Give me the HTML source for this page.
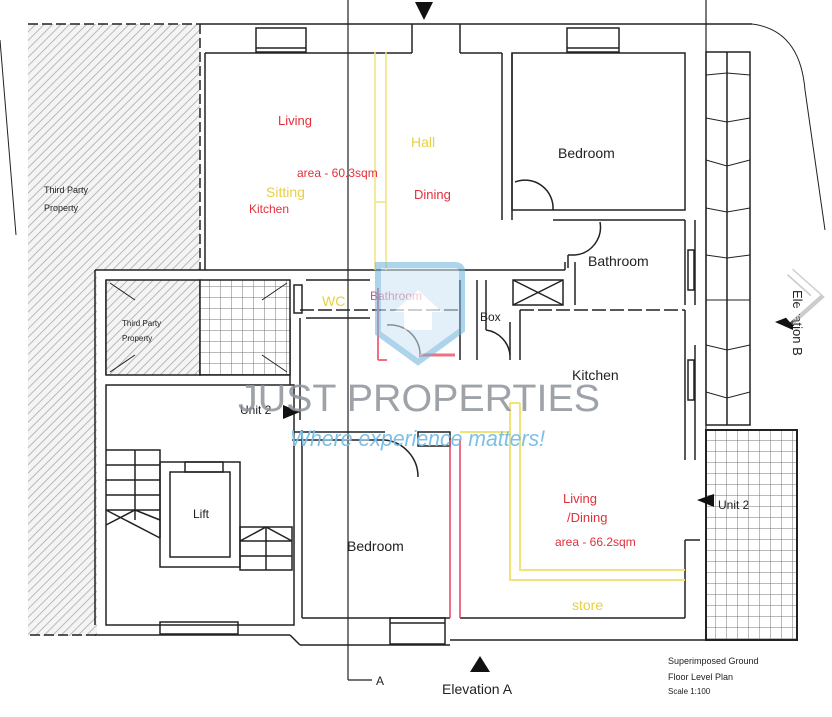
<!DOCTYPE html>
<html><head><meta charset="utf-8"><style>
html,body{margin:0;padding:0;background:#fff;}
svg{display:block;}
text{font-family:"Liberation Sans",sans-serif;}
</style></head><body>
<svg width="832" height="717" viewBox="0 0 832 717" xmlns="http://www.w3.org/2000/svg">
<defs>
<pattern id="hatch" width="6" height="6" patternUnits="userSpaceOnUse" patternTransform="rotate(45)">
<rect width="6" height="6" fill="#f4f4f4"/><line x1="0" y1="0" x2="0" y2="6" stroke="#aaa" stroke-width="1.6"/></pattern>
<pattern id="grid" width="11" height="11" patternUnits="userSpaceOnUse">
<rect width="11" height="11" fill="#fff"/><path d="M0 0H11M0 0V11" stroke="#777" stroke-width="1"/></pattern>
</defs>
<g fill="none" stroke="#222" stroke-width="1.5">
<!-- third party hatched -->
<path d="M28 24H200V270H97V636H28Z" fill="url(#hatch)" stroke="none"/>
<line x1="28" y1="24" x2="200" y2="24" stroke-dasharray="10 4"/>
<line x1="200" y1="24" x2="200" y2="270" stroke-dasharray="10 4"/>
<line x1="30" y1="635" x2="100" y2="635" stroke-dasharray="10 4"/>
<line x1="0" y1="40" x2="16" y2="235" stroke-width="1"/>
<!-- top walls -->
<line x1="200" y1="24" x2="752" y2="24"/>
<path d="M752 24 Q800 30 805 90 L825 230" stroke-width="1"/>
<line x1="205" y1="53" x2="412" y2="53"/>
<line x1="205" y1="53" x2="205" y2="270"/>
<line x1="460" y1="53" x2="502" y2="53"/><line x1="460" y1="24" x2="460" y2="53"/><line x1="412" y1="24" x2="412" y2="53"/>
<rect x="256" y="28" width="50" height="24"/><line x1="256" y1="48" x2="306" y2="48"/>
<rect x="567" y="28" width="52" height="24"/><line x1="567" y1="48" x2="619" y2="48"/>
<!-- section lines -->
<line x1="348" y1="0" x2="348" y2="680" stroke-width="1.2"/><line x1="348" y1="680" x2="372" y2="680" stroke-width="1.2"/>
<line x1="706" y1="0" x2="706" y2="430" stroke-width="1.2"/>
<!-- living right wall / bedroom -->
<line x1="502" y1="53" x2="502" y2="220"/><line x1="512" y1="53" x2="512" y2="220"/>
<rect x="512" y="53" width="173" height="157"/>
<path d="M515 182 A28 28 0 0 1 553 210"/>
<line x1="553" y1="220" x2="685" y2="220"/><line x1="685" y1="220" x2="685" y2="305"/><line x1="695" y1="220" x2="695" y2="305"/>
<path d="M600 222 A28 28 0 0 1 575 255"/>
<line x1="568" y1="255" x2="575" y2="255"/><line x1="568" y1="255" x2="568" y2="268"/>
<rect x="688" y="250" width="6" height="40"/>
<!-- right bricks column -->
<rect x="706" y="52" width="44" height="373"/><line x1="727" y1="52" x2="727" y2="425"/>
<path d="M706 75 L727 73 L750 75 M706 118 L727 122 L750 118 M706 160 L727 166 L750 160 M706 208 L727 212 L750 208 M706 255 L727 258 L750 255 M706 300 L727 300 L750 300 M706 345 L727 350 L750 345 M706 392 L727 398 L750 392" stroke-width="1"/>
<!-- middle band -->
<line x1="95" y1="270" x2="565" y2="270"/><line x1="95" y1="270" x2="95" y2="625"/><line x1="106" y1="280" x2="106" y2="375"/>
<line x1="565" y1="262" x2="565" y2="270"/><line x1="575" y1="262" x2="575" y2="305"/>
<line x1="300" y1="310" x2="460" y2="310" stroke-dasharray="14 4"/>
<line x1="520" y1="310" x2="685" y2="310" stroke-dasharray="14 4"/>
<line x1="306" y1="280" x2="370" y2="280"/><line x1="306" y1="318" x2="370" y2="318"/>
<rect x="294" y="285" width="8" height="28"/>
<rect x="513" y="280" width="50" height="25"/><path d="M513 280L563 305M563 280L513 305"/>
<line x1="477" y1="280" x2="477" y2="360"/><line x1="486" y1="280" x2="486" y2="330"/>
<line x1="460" y1="280" x2="460" y2="360"/>
<line x1="510" y1="322" x2="510" y2="360"/><line x1="520" y1="310" x2="520" y2="360"/>
<path d="M486 330 A28 28 0 0 1 510 355"/>
<path d="M387 325 A30 30 0 0 1 420 357"/>
<line x1="290" y1="318" x2="290" y2="385"/><line x1="300" y1="318" x2="300" y2="420"/>
<!-- third party boxes -->
<rect x="106" y="280" width="94" height="95" fill="url(#hatch)"/>
<rect x="200" y="280" width="90" height="95" fill="url(#grid)"/>
<path d="M110 283L135 300M110 372L135 355M287 283L262 300M287 372L262 355" stroke-width="1"/>
<!-- stair/lift -->
<rect x="106" y="385" width="188" height="240"/>
<line x1="95" y1="635" x2="290" y2="635"/>
<rect x="160" y="622" width="78" height="12"/>
<path d="M106 450H160V538M106 465H160M106 480H160M106 495H160M106 510H160M135 450V520M106 510L160 538M106 525L135 510L160 520"/>
<rect x="160" y="462" width="80" height="105"/><rect x="170" y="472" width="60" height="85"/>
<rect x="185" y="462" width="38" height="10"/>
<path d="M240 527H292V570H240ZM240 541H292M240 556H292M266 527V570M240 541L266 527L292 541"/>
<!-- bedroom bottom -->
<line x1="302" y1="430" x2="302" y2="618"/><line x1="302" y1="618" x2="450" y2="618"/>
<line x1="292" y1="432" x2="385" y2="432"/><line x1="292" y1="440" x2="385" y2="440"/>
<path d="M385 440 A37 37 0 0 1 418 477"/>
<rect x="418" y="432" width="32" height="14"/>
<rect x="390" y="618" width="55" height="26"/><line x1="390" y1="623" x2="445" y2="623"/>
<line x1="290" y1="635" x2="300" y2="645"/><line x1="300" y1="645" x2="450" y2="645"/>
<line x1="450" y1="640" x2="706" y2="640"/>
<!-- kitchen / living -->
<line x1="460" y1="618" x2="685" y2="618"/><line x1="685" y1="540" x2="685" y2="618"/><line x1="685" y1="540" x2="700" y2="540"/>
<line x1="685" y1="310" x2="685" y2="460"/><line x1="695" y1="345" x2="695" y2="460"/>
<rect x="688" y="360" width="6" height="40"/>
<rect x="706" y="430" width="91" height="210" fill="url(#grid)" stroke-width="2"/>
</g>
<!-- colored lines -->
<g fill="none" stroke-width="1.5">
<path d="M375 52V270M386 52V270M375 202H386" stroke="#f2e27a"/>
<path d="M378 288V360M378 360H387" stroke="#f07080" stroke-width="2"/>
<path d="M420 355H455" stroke="#f07080" stroke-width="3"/>
<path d="M450 440V618M460 440V618" stroke="#e84060"/>
<path d="M510 403V580H685M520 403V570H685M510 403H520" stroke="#f2e27a" stroke-width="2"/>
<path d="M460 432H510" stroke="#f2e27a" stroke-width="2"/>
</g>
<!-- labels -->
<g font-size="13" fill="#e0303a">
<text x="278" y="125">Living</text>
<text x="297" y="177" font-size="12">area - 60.3sqm</text>
<text x="249" y="213" font-size="12">Kitchen</text>
<text x="414" y="199">Dining</text>
<text x="563" y="503">Living</text>
<text x="567" y="522">/Dining</text>
<text x="555" y="546" font-size="12">area - 66.2sqm</text>
<text x="370" y="300" font-size="12" fill="#d05070">Bathroom</text>
</g>
<g font-size="14" fill="#e8d040">
<text x="411" y="147">Hall</text>
<text x="266" y="197">Sitting</text>
<text x="572" y="610">store</text>
<text x="322" y="306">WC</text>
</g>
<g fill="#222" font-size="14">
<text x="558" y="158">Bedroom</text>
<text x="588" y="266">Bathroom</text>
<text x="572" y="380">Kitchen</text>
<text x="347" y="551">Bedroom</text>
<text x="193" y="518" font-size="12">Lift</text>
<text x="480" y="321" font-size="12">Box</text>
<text x="718" y="509" font-size="12">Unit 2</text>
<text x="240" y="414" font-size="12">Unit 2</text>
<text x="442" y="694" font-size="14">Elevation A</text>
<text x="376" y="685" font-size="12">A</text>
<text x="44" y="193" font-size="9">Third Party</text>
<text x="44" y="211" font-size="9">Property</text>
<text x="122" y="326" font-size="8">Third Party</text>
<text x="122" y="341" font-size="8">Property</text>
<text x="668" y="664" font-size="9">Superimposed Ground</text>
<text x="668" y="680" font-size="9">Floor Level Plan</text>
<text x="668" y="694" font-size="8">Scale 1:100</text>
<text x="0" y="0" font-size="13" transform="translate(793,290) rotate(90)">Elevation B</text>
</g>
<g fill="#111">
<polygon points="470,672 490,672 480,656"/>
<polygon points="283,405 300,412 283,419"/>
<polygon points="714,494 697,500 714,507"/>
<polygon points="793,315 775,322 793,330"/>
<polygon points="415,2 433,2 424,20"/>
</g>
<!-- watermark -->
<g opacity="0.7">
<path d="M378 265 H455 Q462 265 462 272 V330 L418 362 L378 333 Z" fill="#cfe6f5" stroke="#6fb3dd" stroke-width="6" opacity="0.8"/>
<polygon points="418,290 442,312 432,312 432,330 404,330 404,312 394,312" fill="#fff"/>
</g>
<text x="238" y="411" font-size="38" fill="#8e949c" opacity="0.85" textLength="362" lengthAdjust="spacingAndGlyphs">JUST PROPERTIES</text>
<text x="290" y="446" font-size="22" font-style="italic" fill="#7cc0e8" font-family="Liberation Serif,serif" textLength="255" lengthAdjust="spacingAndGlyphs">Where experience matters!</text>
<polyline points="790,272 818,297 790,322" fill="none" stroke="#999" stroke-width="9" opacity="0.5"/>
<polyline points="788,270 816,295 788,320" fill="none" stroke="#fff" stroke-width="6"/>
</svg>
</body></html>
